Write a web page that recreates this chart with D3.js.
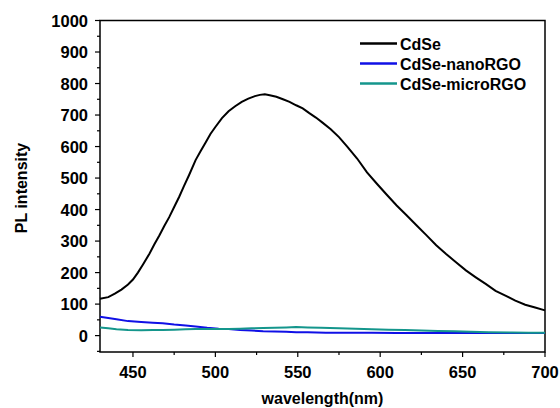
<!DOCTYPE html>
<head>
  <meta charset="utf-8" />
  <script src="https://d3js.org/d3.v7.min.js"></script>
  <style>
    body { margin: 0; background: #fff; }
    text { font-family: "Liberation Sans", Arial, sans-serif; font-weight: bold; }
  </style>
</head>
<body>
  <script>
    // wavelength (nm) / PL intensity
    var cdseX = [430, 435, 439, 443, 447, 450, 453, 456, 460, 463, 466, 469, 472, 475, 478, 481, 484, 488, 491, 494, 497, 500, 504, 508, 512, 516, 520, 524, 527, 530, 533, 537, 541, 545, 549, 553, 557, 561, 565, 570, 575, 580, 586, 592, 598, 604, 610, 616, 622, 628, 634, 640, 646, 652, 658, 664, 670, 676, 682, 688, 694, 700];
    var cdseY = [117, 122, 133, 146, 162, 178, 200, 225, 260, 290, 318, 348, 376, 408, 440, 475, 509, 557, 585, 612, 640, 662, 690, 712, 728, 742, 752, 760, 764, 766, 763, 758, 750, 742, 731, 721, 706, 692, 676, 655, 630, 600, 562, 518, 482, 447, 413, 382, 350, 319, 287, 259, 233, 207, 185, 164, 142, 127, 111, 98, 89, 80];
    var nanoX = [430, 435, 440, 447, 455, 462, 468, 475, 482, 488, 495, 502, 508, 515, 522, 529, 536, 543, 549, 556, 567, 580, 595, 610, 625, 640, 655, 670, 685, 700];
    var nanoY = [60, 56, 52, 46, 43, 41, 39, 35, 32, 29, 25, 22, 21, 18, 16, 14, 13, 12, 11, 11, 9, 9, 9, 8, 8, 8, 8, 8, 8, 8];
    var microX = [430, 435, 440, 447, 455, 462, 468, 475, 482, 488, 495, 502, 508, 515, 522, 529, 536, 543, 549, 556, 564, 575, 585, 595, 605, 615, 625, 635, 645, 655, 666, 680, 690, 700];
    var microY = [26, 23, 20, 18, 17, 18, 18, 19, 20, 21, 21, 21, 21, 22, 23, 24, 25, 26, 27, 26, 25, 23, 22, 20, 19, 18, 16, 15, 14, 12, 11, 10, 9, 9];

    var seriesNames = ["CdSe", "CdSe-nanoRGO", "CdSe-microRGO"];
    var seriesColors = ["#000000", "#1010e6", "#14968c"];
    var xTicks = [450, 500, 550, 600, 650, 700];
    var yTicks = [0, 100, 200, 300, 400, 500, 600, 700, 800, 900, 1000];

    var width = 560, height = 408;
    var margin = { left: 100, right: 15, top: 20.5, bottom: 56 };

    var svg = d3.select("body").append("svg")
      .attr("width", width)
      .attr("height", height);

    var x = d3.scaleLinear().domain([430, 700]).range([margin.left, width - margin.right]);
    var y = d3.scaleLinear().domain([-52, 1000]).range([height - margin.bottom, margin.top]);

    function zip(xs, ys) { return xs.map(function (v, i) { return [v, ys[i]]; }); }
    var series = [zip(cdseX, cdseY), zip(nanoX, nanoY), zip(microX, microY)];

    var line = d3.line().x(function (d) { return x(d[0]); }).y(function (d) { return y(d[1]); });

    // frame
    svg.append("rect")
      .attr("x", x(430)).attr("y", y(1000))
      .attr("width", x(700) - x(430)).attr("height", y(-52) - y(1000))
      .attr("fill", "none").attr("stroke", "#000").attr("stroke-width", 1.5);

    // ticks, major + minor
    var xMinor = d3.range(450, 701, 25);
    svg.append("g").selectAll("line").data(xMinor).join("line")
      .attr("x1", function (d) { return x(d); }).attr("x2", function (d) { return x(d); })
      .attr("y1", y(-52)).attr("y2", function (d) { return y(-52) + (d % 50 == 0 ? 5 : 3); })
      .attr("stroke", "#000").attr("stroke-width", 1.2);
    var yMinor = d3.range(-50, 1001, 50);
    svg.append("g").selectAll("line").data(yMinor).join("line")
      .attr("y1", function (d) { return y(d); }).attr("y2", function (d) { return y(d); })
      .attr("x1", x(430)).attr("x2", function (d) { return x(430) - (d % 100 == 0 ? 5 : 3); })
      .attr("stroke", "#000").attr("stroke-width", 1.2);

    // tick labels
    svg.append("g").selectAll("text").data(xTicks).join("text")
      .attr("x", function (d) { return x(d); })
      .attr("y", y(-52) + 25.5)
      .attr("text-anchor", "middle")
      .attr("font-size", 16.5)
      .text(function (d) { return d; });
    svg.append("g").selectAll("text").data(yTicks).join("text")
      .attr("x", x(430) - 12)
      .attr("y", function (d) { return y(d) + 6; })
      .attr("text-anchor", "end")
      .attr("font-size", 16.5)
      .text(function (d) { return d; });

    // axis titles
    svg.append("text")
      .attr("x", (x(430) + x(700)) / 2)
      .attr("y", 404)
      .attr("text-anchor", "middle")
      .attr("font-size", 16)
      .text("wavelength(nm)");
    svg.append("text")
      .attr("transform", "translate(27," + 188 + ") rotate(-90)")
      .attr("text-anchor", "middle")
      .attr("font-size", 16)
      .text("PL intensity");

    // curves
    svg.append("g").selectAll("path").data(series).join("path")
      .attr("d", line)
      .attr("fill", "none")
      .attr("stroke", function (d, i) { return seriesColors[i]; })
      .attr("stroke-width", 2);

    // legend
    var lg = svg.append("g").selectAll("g").data(seriesNames).join("g")
      .attr("transform", function (d, i) { return "translate(360," + (43.5 + i * 20) + ")"; });
    lg.append("line")
      .attr("x1", 0).attr("x2", 37)
      .attr("stroke", function (d, i) { return seriesColors[i]; })
      .attr("stroke-width", 2.5);
    lg.append("text")
      .attr("x", 40).attr("y", 6)
      .attr("font-size", 16)
      .text(function (d) { return d; });
  </script>
</body>
